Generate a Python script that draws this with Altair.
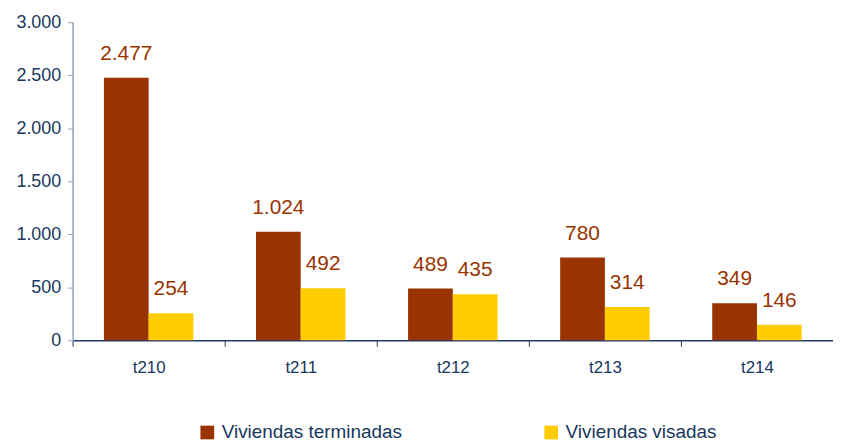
import altair as alt
import pandas as pd

categories = ["t210", "t211", "t212", "t213", "t214"]
series = ["Viviendas terminadas", "Viviendas visadas"]
terminadas = [2477, 1024, 489, 780, 349]
visadas = [254, 492, 435, 314, 146]
colors = ["#993300", "#FFCC00"]
y_ticks = [0, 500, 1000, 1500, 2000, 2500, 3000]

rows = []
for c, t, v in zip(categories, terminadas, visadas):
    for s, val in ((series[0], t), (series[1], v)):
        rows.append({"cat": c, "serie": s, "value": val,
                     "label": f"{val:,}".replace(",", ".")})
df = pd.DataFrame(rows)

navy = "#17375E"
font = "Liberation Sans"

x = alt.X("cat:N", sort=categories, scale=alt.Scale(paddingInner=0, paddingOuter=0),
          axis=alt.Axis(title=None, labelAngle=0, tickBand="extent", tickSize=6,
                        domainColor="#1F3864", tickColor="#1F3864", domainWidth=1.5,
                        labelPadding=13, labelFontSize=17, labelColor=navy, labelFont=font))
xo = alt.XOffset("serie:N", sort=series, scale=alt.Scale(paddingOuter=0.7, paddingInner=0))
y = alt.Y("value:Q", scale=alt.Scale(domain=[0, 3000], nice=False),
          axis=alt.Axis(title=None, values=y_ticks, grid=False,
                        labelExpr="replace(format(datum.value, ','), ',', '.')",
                        domainColor="#8EA0BE", tickColor="#8EA0BE", domainWidth=1.5,
                        tickSize=5, labelPadding=7, labelFontSize=18, labelColor=navy,
                        labelFont=font))

base = alt.Chart(df)
bars = base.mark_bar().encode(
    x=x, xOffset=xo, y=y,
    color=alt.Color("serie:N", sort=series,
                    scale=alt.Scale(domain=series, range=colors),
                    legend=alt.Legend(title=None, orient="none", legendX=126, legendY=403,
                                      direction="horizontal", symbolType="square",
                                      symbolSize=190, symbolStrokeWidth=0,
                                      labelFontSize=19, labelFont=font, labelColor=navy,
                                      labelLimit=0, columnPadding=140, labelOffset=5)),
)
texts = base.mark_text(dy=-18, baseline="alphabetic", fontSize=21, font=font,
                       color="#993300").encode(x=x, xOffset=xo, y=y, text="label:N")

chart = alt.layer(bars, texts).properties(
    width=765, height=320,
    autosize=alt.AutoSizeParams(type="none"),
    padding={"left": 65, "top": 13, "right": 0, "bottom": 100},
).configure_view(stroke=None)

chart.save("out.html", embed_options={"renderer": "svg", "actions": False})
